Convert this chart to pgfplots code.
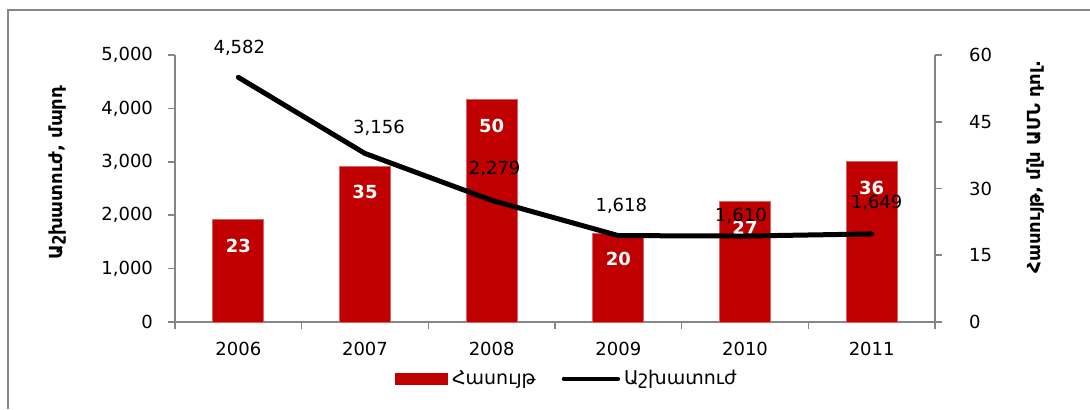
\documentclass[border=0pt]{standalone}
\usepackage{fontspec}
\setmainfont{DejaVu Sans}
\usepackage{pgfplots}
\pgfplotsset{compat=1.18}
\definecolor{barred}{RGB}{192,0,0}
\definecolor{axgray}{RGB}{134,134,134}
\begin{document}
\begin{tikzpicture}[font=\fontsize{9}{11}\selectfont]
\useasboundingbox (-87.5pt,-43.5pt) rectangle (457.5pt,161pt);
\draw[axgray, line width=0.8pt] (-83.5pt,-43.5pt) -- (-83.5pt,156pt) -- (457.5pt,156pt);
% bars: revenue, right axis
\begin{axis}[
  at={(0pt,0pt)}, anchor=south west,
  scale only axis, width=380pt, height=133.5pt,
  xmin=-0.5, xmax=5.5, ymin=0, ymax=60,
  axis x line*=bottom, axis y line*=right,
  axis line style={axgray, line width=0.8pt},
  xtick={-0.5,0.5,1.5,2.5,3.5,4.5,5.5},
  x tick label as interval,
  xticklabels={2006,2007,2008,2009,2010,2011},
  ytick={0,15,30,45,60},
  tick align=outside,
  tick style={axgray, line width=0.8pt},
  major tick length=3.5pt,
  /pgf/number format/assume math mode=true,
  yticklabel style={anchor=west, xshift=10pt},
  xticklabel style={yshift=-3pt},
  every axis y label/.style={at={(1.133,0.58)}, rotate=90, anchor=center, font=\fontsize{9}{11}\selectfont\bfseries},
  ylabel={Հասույթ, մլն ԱՄՆ դոլ.},
  ybar, bar width=25.5pt,
  clip=false,
]
\addplot[ybar, bar shift=0pt, fill=barred, draw=barred!60!white, line width=0.4pt,
  nodes near coords,
  every node near coord/.append style={white, font=\fontsize{9}{11}\selectfont\bfseries, anchor=center, yshift=-13pt}]
  coordinates {(0,23) (1,35) (2,50) (3,20) (4,27) (5,36)};
\end{axis}
% line: labour force, left axis
\begin{axis}[
  at={(0pt,0pt)}, anchor=south west,
  scale only axis, width=380pt, height=133.5pt,
  xmin=-0.5, xmax=5.5, ymin=0, ymax=5000,
  axis x line=none, axis y line*=left,
  axis line style={axgray, line width=0.8pt},
  ytick={0,1000,2000,3000,4000,5000},
  tick align=outside,
  tick style={axgray, line width=0.8pt},
  major tick length=3.5pt,
  /pgf/number format/1000 sep={,},
  /pgf/number format/assume math mode=true,
  yticklabel style={anchor=east, xshift=-4pt},
  every axis y label/.style={at={(-0.155,0.56)}, rotate=90, anchor=center, font=\fontsize{9}{11}\selectfont\bfseries},
  ylabel={Աշխատուժ, մարդ},
  clip=false,
  legend style={at={(0.517,-0.213)}, anchor=center, draw=none, fill=none,
    legend columns=2, font=\fontsize{9.5}{11}\selectfont,
    /tikz/every even column/.append style={column sep=11pt},
    /tikz/every odd column/.append style={column sep=0pt}},
  legend cell align=left,
  visualization depends on={value \thisrow{dx} \as \dx},
  visualization depends on={value \thisrow{dy} \as \dy},
]
\addlegendimage{legend image code/.code={\fill[barred] (0pt,-2.75pt) rectangle (26pt,2.75pt);}}
\addlegendentry{Հասույթ}
\addplot[black, line width=2.5pt, line join=round, line cap=round,
  legend image code/.code={\draw[black, line width=2.2pt, line cap=round] (0pt,0pt) -- (27pt,0pt);},
  nodes near coords,
  every node near coord/.append style={black, font=\fontsize{9}{11}\selectfont, anchor=center, xshift=\dx pt, yshift=\dy pt}]
  table {
x y dx dy
0 4582 0.5 14.5
1 3156 7 13
2 2279 1.5 15.5
3 1618 1.5 15
4 1610 -2 10
5 1649 2.5 15.5
};
\addlegendentry{Աշխատուժ}
\end{axis}
\end{tikzpicture}
\end{document}
